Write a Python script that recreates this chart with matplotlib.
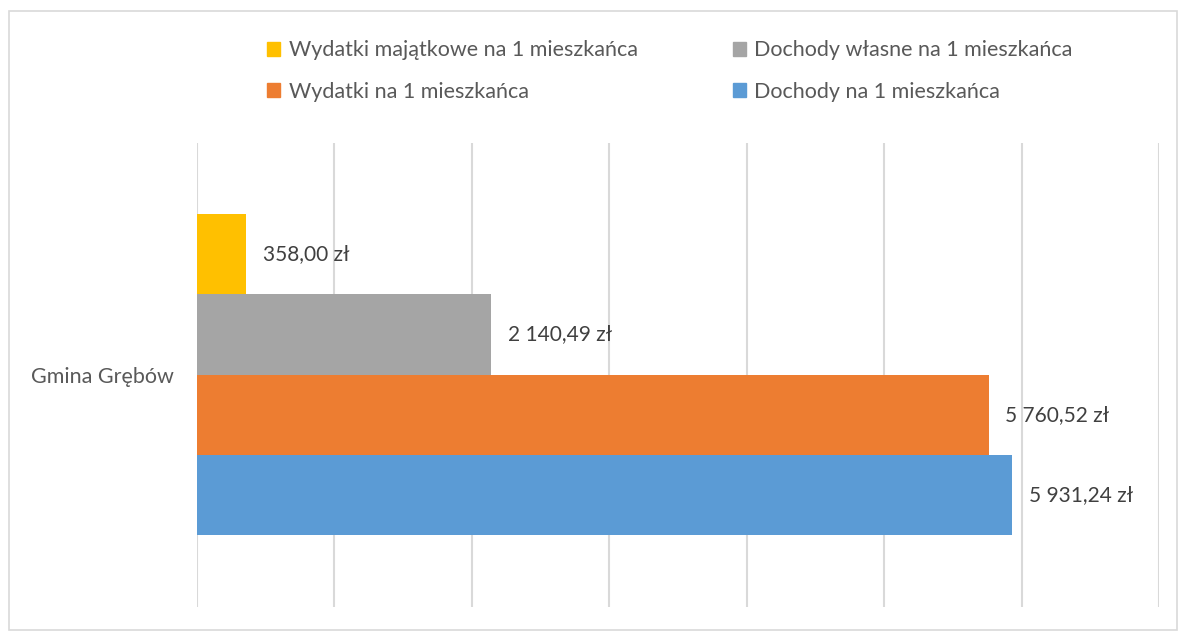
import matplotlib.pyplot as plt
from matplotlib.patches import Rectangle, Patch

plt.rcParams['font.family'] = ['Lato', 'DejaVu Sans']

kategoria = 'Gmina Grębów'
serie = ['Dochody na 1 mieszkańca', 'Wydatki na 1 mieszkańca',
         'Dochody własne na 1 mieszkańca', 'Wydatki majątkowe na 1 mieszkańca']
wartosci = [5931.24, 5760.52, 2140.49, 358.00]
etykiety = ['5 931,24 zł', '5 760,52 zł', '2 140,49 zł', '358,00 zł']
kolory = ['#5b9bd5', '#ed7d31', '#a5a5a5', '#ffc000']

fig = plt.figure(figsize=(11.8, 6.31), dpi=100)
W, H = 1180, 631

# ramka wykresu
fig.patches.append(Rectangle((9 / W, 1 / H), 1168 / W, 619 / H, transform=fig.transFigure,
                             fill=False, edgecolor='#d9d9d9', linewidth=1.2))

ax = fig.add_axes([197 / W, 1 - 607 / H, (1159 - 197) / W, (607 - 143) / H])

pozycje = list(range(len(serie)))
ax.barh(pozycje, wartosci, height=1.0, color=kolory)

for p, v, t in zip(pozycje, wartosci, etykiety):
    ax.annotate(t, (v, p), xytext=(12, 0), textcoords='offset points',
                va='center', ha='left', fontsize=15, color='#404040')

ax.set_xlim(0, 7000)
ax.set_ylim(-1.395, 4.385)
ax.set_xticks(range(0, 7001, 1000))
ax.set_xticklabels([])
ax.tick_params(length=0)
ax.set_yticks([1.5])
ax.set_yticklabels([kategoria], fontsize=15.5, color='#595959')
ax.tick_params(axis='y', pad=17)
ax.grid(axis='x', color='#d9d9d9', linewidth=1.5)
ax.set_axisbelow(True)
for s in ax.spines.values():
    s.set_visible(False)

kolejnosc = [3, 1, 2, 0]
uchwyty = [Patch(color=kolory[i]) for i in kolejnosc]
fig.legend(uchwyty, [serie[i] for i in kolejnosc], ncol=2, frameon=False,
           loc='upper left', bbox_to_anchor=(248 / W, 1 - 21 / H),
           fontsize=15.5, labelcolor='#595959', handlelength=0.6, handleheight=0.6,
           handletextpad=0.4, columnspacing=4.4, labelspacing=1.0)

fig.savefig('out.png', dpi=100)
